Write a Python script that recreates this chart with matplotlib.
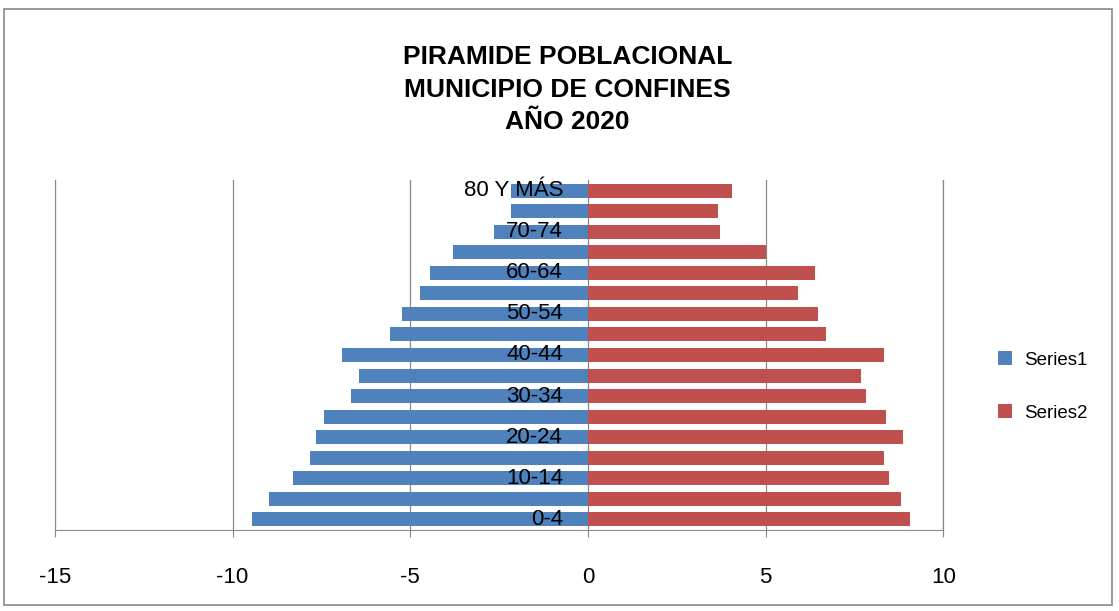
import matplotlib.pyplot as plt
from matplotlib.patches import Rectangle
import numpy as np

# Data
grupos = ['0-4', '5-9', '10-14', '15-19', '20-24', '25-29', '30-34', '35-39',
          '40-44', '45-49', '50-54', '55-59', '60-64', '65-69', '70-74', '75-79', '80 Y MÁS']
series1 = [-9.46, -8.96, -8.31, -7.83, -7.66, -7.44, -6.68, -6.45,
           -6.93, -5.58, -5.24, -4.73, -4.45, -3.80, -2.65, -2.17, -2.17]
series2 = [9.07, 8.82, 8.48, 8.34, 8.87, 8.39, 7.83, 7.69,
           8.34, 6.70, 6.48, 5.92, 6.39, 5.01, 3.72, 3.66, 4.06]
ticks_x = [-15, -10, -5, 0, 5, 10]

plt.rcParams['font.family'] = ['Liberation Sans', 'DejaVu Sans']

fig = plt.figure(figsize=(11.19, 6.11), dpi=100)
ax = fig.add_axes([0.049, 0.133, 0.794, 0.572])

y = np.arange(len(grupos))
ax.barh(y, series1, height=0.68, color='#4F81BD', label='Series1', zorder=2)
ax.barh(y, series2, height=0.68, color='#C0504D', label='Series2', zorder=2)

ax.set_xlim(-15, 10)
ax.set_ylim(-0.5, len(grupos) - 0.5)
ax.set_xticks(ticks_x)
ax.set_xticklabels([str(t) for t in ticks_x], fontsize=16)
ax.tick_params(axis='x', direction='out', length=5, color='#888888', pad=22)
ax.set_yticks([])
ax.grid(axis='x', color='#888888', linewidth=0.9, zorder=0)
ax.axvline(10, color='#888888', linewidth=0.9, zorder=0, clip_on=False)

for s in ['top', 'right']:
    ax.spines[s].set_visible(False)
for s in ['left', 'bottom']:
    ax.spines[s].set_color('#888888')

# etiquetas de edad sobre el eje en 0
for i in range(0, len(grupos), 2):
    ax.text(-0.7, y[i], grupos[i], ha='right', va='center', fontsize=16, zorder=3)

fig.text(0.507, 0.853, 'PIRAMIDE POBLACIONAL\nMUNICIPIO DE CONFINES\nAÑO 2020',
         ha='center', va='center', fontsize=19, fontweight='bold', linespacing=1.45)

leg = ax.legend(loc='center left', bbox_to_anchor=(1.043, 0.41), frameon=False,
                fontsize=13.5, handlelength=0.75, handleheight=0.75, labelspacing=1.9,
                handletextpad=0.6)

fig.patches.append(Rectangle((0.004, 0.01), 0.99, 0.975, transform=fig.transFigure,
                             fill=False, edgecolor='#888888', linewidth=1.2))

fig.savefig('out.png', dpi=100)
